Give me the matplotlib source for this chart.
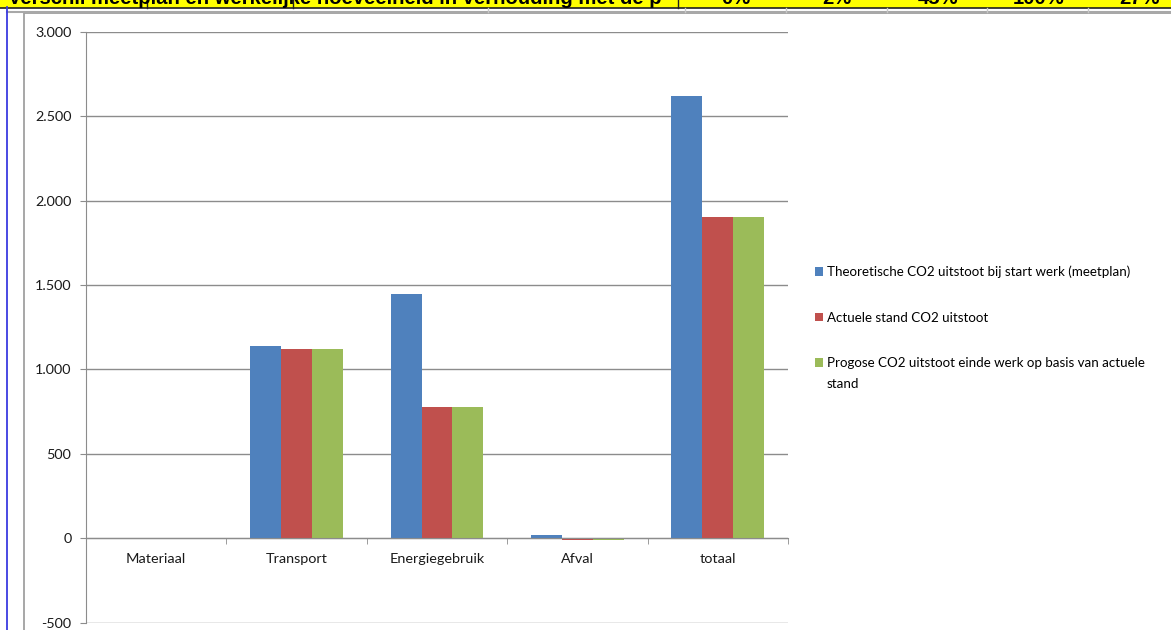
import matplotlib
matplotlib.use("Agg")
import matplotlib.pyplot as plt
from matplotlib.patches import Rectangle
from matplotlib.lines import Line2D
from matplotlib.ticker import FuncFormatter, FixedLocator
import numpy as np

# data
categories = ["Materiaal", "Transport", "Energiegebruik", "Afval", "totaal"]
series_names = [
    "Theoretische CO2 uitstoot bij start werk (meetplan)",
    "Actuele stand CO2 uitstoot",
    "Progose CO2 uitstoot einde werk op basis van actuele stand",
]
theoretisch = [0, 1139, 1445, 20, 2617]
actueel = [0, 1122, 775, -10, 1902]
prognose = [0, 1122, 775, -10, 1902]
header_text = "Verschil meetplan en werkelijke hoeveelheid in verhouding met de p"
header_pcts = ["0%", "2%", "45%", "100%", "27%"]

colors = ["#4F81BD", "#C0504D", "#9BBB59"]
W, H = 1171, 630

fig = plt.figure(figsize=(W / 100, H / 100), dpi=100)
fig.patch.set_facecolor("white")


def px(x, y):
    # pixel (from top-left) to figure fraction
    return x / W, 1 - y / H


# spreadsheet bits around the chart
fig.patches.append(Rectangle((0, 1 - 7.5 / H), 1, 7.5 / H, transform=fig.transFigure,
                             facecolor="#FFFF00", edgecolor="none", zorder=0))
fig.lines.append(Line2D([0, 1], [1 - 7.5 / H] * 2, transform=fig.transFigure, color="#202020", lw=1.2))
fig.lines.append(Line2D([7 / W, 1], [1 - 12 / H] * 2, transform=fig.transFigure, color="#a8a8a8", lw=1.5))
for bx in [147, 293, 678]:
    fig.lines.append(Line2D([bx / W] * 2, [1, 1 - 7.5 / H], transform=fig.transFigure, color="#202020", lw=1))
for bx in [488, 685, 786, 887, 987, 1088]:
    fig.lines.append(Line2D([bx / W] * 2, [1 - 8 / H, 1 - 12 / H], transform=fig.transFigure, color="#c8c8c8", lw=1))
fig.lines.append(Line2D([7 / W] * 2, [1 - 7 / H, 0], transform=fig.transFigure, color="#3a3ae0", lw=1.3))
fig.patches.append(Rectangle(px(24, 700), 1300 / W, 687 / H, transform=fig.transFigure,
                             facecolor="none", edgecolor="#a0a0a0", lw=1.3, zorder=1))

fig.text(8 / W, 1 - 4.3 / H, header_text, fontsize=14.6, fontweight="bold",
         family="Liberation Sans", va="baseline", ha="left")
for i, p in enumerate(header_pcts):
    fig.text((736 + 101 * i) / W, 1 - 4.3 / H, p, fontsize=14.6, fontweight="bold",
             family="Liberation Sans", va="baseline", ha="center")

# plot area
ax = fig.add_axes([86 / W, 1 - 622.5 / H, 702 / W, 590.8 / H])
ax.set_facecolor("none")

x = np.arange(len(categories))
bw = 0.22
legend_labels = [series_names[0], series_names[1], series_names[2].rsplit(" ", 1)[0]]
for i, vals in enumerate([theoretisch, actueel, prognose]):
    ax.bar(x + (i - 1) * bw, vals, width=bw, color=colors[i], label=legend_labels[i], zorder=3)

ax.set_xlim(-0.5, len(categories) - 0.5)
ax.set_ylim(-500, 3000)
ax.set_yticks(np.arange(-500, 3001, 500))
ax.yaxis.set_major_formatter(FuncFormatter(lambda v, _: f"{int(v):,}".replace(",", ".")))
ax.grid(axis="y", color="#8c8c8c", lw=1, zorder=1)

for s in ["top", "right"]:
    ax.spines[s].set_visible(False)
ax.spines["left"].set_color("#8c8c8c")
ax.spines["bottom"].set_color("#8c8c8c")
ax.spines["bottom"].set_position(("data", 0))
ax.spines["bottom"].set_zorder(4)

ax.set_xticks(x)
ax.set_xticklabels(categories)
ax.xaxis.set_minor_locator(FixedLocator(np.arange(-0.5, len(categories), 1.0)))
ax.tick_params(axis="x", which="major", length=0, pad=11, labelsize=10.4, labelcolor="#1a1a1a")
ax.tick_params(axis="x", which="minor", length=4, color="#8c8c8c", direction="out")
ax.tick_params(axis="y", length=4.5, color="#8c8c8c", pad=6, labelsize=10.4, labelcolor="#1a1a1a")
for t in ax.get_xticklabels() + ax.get_yticklabels():
    t.set_family("Lato")

leg = ax.legend(loc="upper left", bbox_to_anchor=(808 / W, 1 - 259 / H), bbox_transform=fig.transFigure,
                frameon=False, prop={"family": "Lato", "size": 9.6}, handlelength=0.62, handleheight=0.62,
                handletextpad=0.3, labelspacing=2.5, borderpad=0)

# wrapped remainder of the last legend entry, placed under its first line
fig.canvas.draw()
last = leg.get_texts()[-1]
bb = last.get_window_extent()
fig.text(bb.x0 / W, (bb.y0 - 21) / H, series_names[2].rsplit(" ", 1)[1],
         family="Lato", fontsize=9.6, va="bottom", ha="left")

fig.savefig("out.png", dpi=100)
